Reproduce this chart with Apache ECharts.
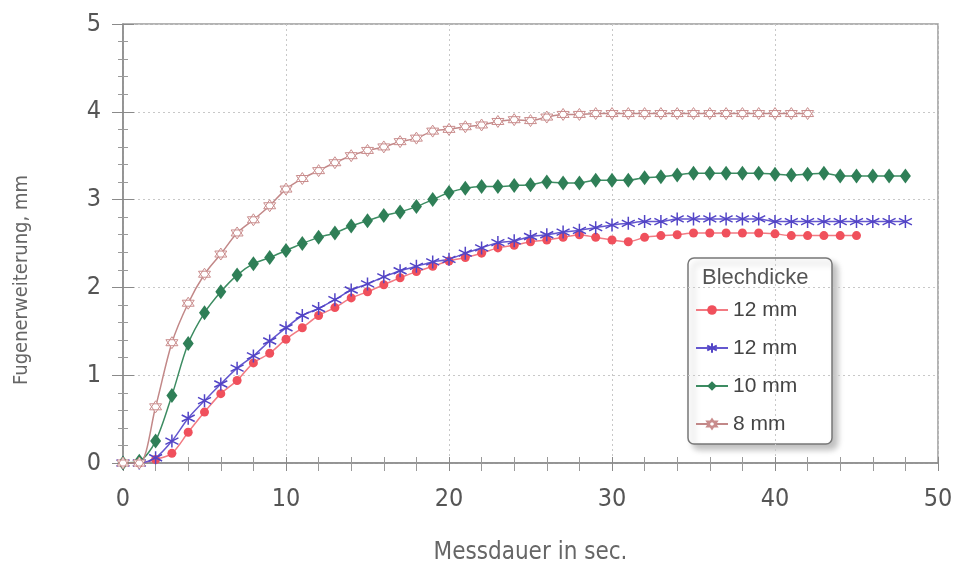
<!DOCTYPE html>
<html>
<head>
<meta charset="utf-8">
<script src="https://cdn.jsdelivr.net/npm/echarts@6/dist/echarts.min.js"></script>
<style>
  html, body { margin: 0; padding: 0; background: #fff; }
  #chart { width: 958px; height: 570px; }
</style>
</head>
<body>
<div id="chart"></div>
<script>
const red12 = [0, 0, 0.04, 0.11, 0.35, 0.58, 0.79, 0.94, 1.14, 1.25, 1.41, 1.54, 1.68, 1.77, 1.88, 1.95,
  2.03, 2.11, 2.18, 2.24, 2.30, 2.34, 2.39, 2.45, 2.48, 2.52, 2.54, 2.57, 2.60, 2.57, 2.54, 2.52,
  2.57, 2.59, 2.60, 2.62, 2.62, 2.62, 2.62, 2.62, 2.61, 2.59, 2.59, 2.59, 2.59, 2.59];
const blue12 = [0, 0, 0.06, 0.25, 0.51, 0.71, 0.90, 1.08, 1.22, 1.39, 1.54, 1.68, 1.76, 1.86, 1.97, 2.04,
  2.12, 2.19, 2.24, 2.29, 2.32, 2.39, 2.45, 2.51, 2.53, 2.58, 2.60, 2.63, 2.65, 2.68, 2.71, 2.73,
  2.75, 2.75, 2.78, 2.78, 2.78, 2.78, 2.78, 2.78, 2.75, 2.75, 2.75, 2.75, 2.75, 2.75, 2.75, 2.75, 2.75];
const green10 = [0, 0.02, 0.25, 0.77, 1.36, 1.71, 1.95, 2.14, 2.27, 2.34, 2.42, 2.50, 2.57, 2.62, 2.70, 2.76,
  2.82, 2.86, 2.92, 3.00, 3.08, 3.13, 3.15, 3.15, 3.16, 3.17, 3.20, 3.19, 3.19, 3.22, 3.22, 3.22,
  3.25, 3.26, 3.28, 3.30, 3.30, 3.30, 3.30, 3.30, 3.29, 3.28, 3.29, 3.30, 3.27, 3.27, 3.27, 3.27, 3.27];
const pink8 = [0, 0, 0.64, 1.37, 1.82, 2.15, 2.38, 2.62, 2.77, 2.93, 3.12, 3.24, 3.33, 3.42, 3.50, 3.56,
  3.60, 3.66, 3.70, 3.78, 3.80, 3.83, 3.85, 3.89, 3.91, 3.90, 3.94, 3.97, 3.97, 3.98, 3.98, 3.98,
  3.98, 3.98, 3.98, 3.98, 3.98, 3.98, 3.98, 3.98, 3.98, 3.98, 3.98];
const seriesNames = ['12 mm', '12 mm ', '10 mm', '8 mm'];

const font = "'Liberation Sans Narrow', 'DejaVu Sans Condensed', 'Liberation Sans', sans-serif";
const legendFont = "'Liberation Sans', Arial, sans-serif";
const asterisk = 'path://M0,-6L0,6M-5.2,-3L5.2,3M-5.2,3L5.2,-3';
const hexagram = 'path://M0,-6L5.2,3L-5.2,3ZM0,6L-5.2,-3L5.2,-3Z';

function pairs(vals) {
  return vals.map((v, i) => [i, v]);
}

const chart = echarts.init(document.getElementById('chart'));

const axisStyle = { lineStyle: { color: '#8a8a8a', width: 1.5 } };

chart.setOption({
  animation: false,
  grid: {
    left: 123, right: 20, top: 24, bottom: 104,
    show: true, borderColor: '#9a9a9a', borderWidth: 1.5
  },
  xAxis: [{
    type: 'value', min: 0, max: 50, interval: 10,
    name: 'Messdauer in sec.', nameLocation: 'middle', nameGap: 78,
    nameTextStyle: { fontFamily: font, fontSize: 24, color: '#666' },
    axisLine: axisStyle,
    axisTick: { show: true, length: 8, lineStyle: { color: '#8a8a8a' } },
    minorTick: { show: true, splitNumber: 5, length: 8, lineStyle: { color: '#9a9a9a' } },
    axisLabel: { fontFamily: font, fontSize: 25, color: '#555', margin: 24 },
    splitLine: { show: true, lineStyle: { color: '#c8c8c8', type: [2, 3] } }
  }, {
    type: 'value', min: 0, max: 50, interval: 10, position: 'bottom',
    axisLine: { show: false },
    axisTick: { show: true, inside: true, length: 6, lineStyle: { color: '#8a8a8a' } },
    minorTick: { show: true, splitNumber: 5, length: 6, lineStyle: { color: '#9a9a9a' } },
    axisLabel: { show: false }, splitLine: { show: false }
  }],
  yAxis: [{
    type: 'value', min: 0, max: 5, interval: 1,
    axisLine: { show: true, lineStyle: { color: '#8a8a8a', width: 1.5 } },
    axisTick: { show: true, length: 11, lineStyle: { color: '#8a8a8a' } },
    minorTick: { show: true, splitNumber: 5, length: 5, lineStyle: { color: '#9a9a9a' } },
    axisLabel: { fontFamily: font, fontSize: 25, color: '#555', margin: 22 },
    splitLine: { show: true, lineStyle: { color: '#c8c8c8', type: [2, 3] } }
  }, {
    type: 'value', min: 0, max: 5, interval: 1, position: 'left',
    axisLine: { show: false },
    axisTick: { show: true, inside: true, length: 11, lineStyle: { color: '#8a8a8a' } },
    minorTick: { show: true, splitNumber: 5, length: 5, lineStyle: { color: '#9a9a9a' } },
    axisLabel: { show: false }, splitLine: { show: false }
  }],
  title: {
    text: 'Blechdicke', left: 697, top: 262,
    textStyle: { fontFamily: legendFont, fontSize: 22, fontWeight: 'normal', color: '#555' }
  },
  graphic: [{
    type: 'rect', z: 0,
    shape: { x: 688, y: 258, width: 144, height: 186, r: 6 },
    style: {
      fill: '#fff', stroke: '#777', lineWidth: 1.5,
      shadowColor: 'rgba(0,0,0,0.25)', shadowBlur: 6, shadowOffsetX: 5, shadowOffsetY: 5
    }
  }, {
    // y-axis title, set lower than the plot middle as in the original
    type: 'text', x: 22, y: 280, rotation: Math.PI / 2,
    style: {
      text: 'Fugenerweiterung, mm', fontFamily: font, fontSize: 20, fill: '#666',
      textAlign: 'center', textVerticalAlign: 'middle'
    }
  }],
  legend: {
    orient: 'vertical', left: 690, top: 294, z: 5,
    itemWidth: 32, itemHeight: 12, itemGap: 16,
    formatter: n => n.trim(),
    textStyle: { fontFamily: legendFont, fontSize: 21, color: '#444', lineHeight: 22 },
    data: seriesNames
  },
  series: [{
    name: seriesNames[0], type: 'line', smooth: 0.3,
    data: pairs(red12),
    symbol: 'circle', symbolSize: 9,
    itemStyle: { color: '#f0505c' },
    lineStyle: { color: '#f27a82', width: 1.5 }
  }, {
    name: seriesNames[1], type: 'line', smooth: 0.3,
    data: pairs(blue12),
    symbol: asterisk, symbolSize: 13,
    itemStyle: { color: 'none', borderColor: '#5244c6', borderWidth: 1.5 },
    lineStyle: { color: '#6457cf', width: 1.5 }
  }, {
    name: seriesNames[2], type: 'line', smooth: 0.3,
    data: pairs(green10),
    symbol: 'diamond', symbolSize: [11, 15],
    itemStyle: { color: '#2f7f57' },
    lineStyle: { color: '#3d8c62', width: 1.5 }
  }, {
    name: seriesNames[3], type: 'line', smooth: 0.3,
    data: pairs(pink8),
    symbol: hexagram, symbolSize: 12,
    itemStyle: { color: '#fff', borderColor: '#c98c8c', borderWidth: 1 },
    lineStyle: { color: '#c28888', width: 1.5 }
  }]
});
</script>
</body>
</html>
